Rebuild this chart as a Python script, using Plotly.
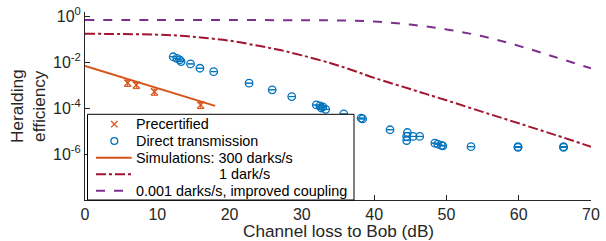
import plotly.graph_objects as go

# ---- data ----
precert_loss = [5.9, 7.1, 9.6, 16.0]
precert_eff = [1.26e-3, 1.02e-3, 5.2e-4, 1.38e-4]

direct_loss = [12.2, 12.7, 13.1, 13.3, 14.6, 15.9, 17.8, 22.7, 25.9, 28.6,
               32.0, 32.5, 32.9, 33.3, 32.7, 35.8, 38.2, 38.4, 42.2,
               44.6, 44.5, 44.5, 45.4, 46.3, 48.4, 48.8, 49.3, 49.5,
               53.4, 59.9, 59.9, 66.2, 66.2]
direct_eff = [1.74e-2, 1.48e-2, 1.26e-2, 1.07e-2, 8.5e-3, 5.5e-3, 3.9e-3, 1.23e-3, 6.3e-4, 3.2e-4,
              1.38e-4, 1.26e-4, 1.15e-4, 8.9e-5, 1.02e-4, 5.6e-5, 3.7e-5, 3.4e-5, 1.15e-5,
              8.7e-6, 5.9e-6, 3.9e-6, 5.9e-6, 5.9e-6, 3.0e-6, 2.7e-6, 2.4e-6, 2.3e-6,
              2.1e-6, 1.95e-6, 2.1e-6, 1.95e-6, 2.1e-6]

sim300_loss = [0, 18]
sim300_eff = [6.9e-3, 1.26e-4]

sim1_loss = [0, 5, 10, 13, 16, 20, 24, 27, 30, 34, 37, 40, 45, 50, 55, 60, 65, 70]
sim1_eff = [0.174, 0.170, 0.160, 0.145, 0.12, 0.087, 0.052, 0.034, 0.020, 9.1e-3,
            4.5e-3, 2.1e-3, 6.8e-4, 2.2e-4, 6.9e-5, 2.2e-5, 6.9e-6, 2.1e-6]

sim001_loss = [0, 10, 20, 30, 35, 40, 45, 50, 55, 60, 65, 70]
sim001_eff = [0.69, 0.69, 0.69, 0.68, 0.665, 0.60, 0.44, 0.27, 0.135, 0.052, 0.017, 5.4e-3]

x_ticks = [0, 10, 20, 30, 40, 50, 60, 70]
y_tickvals = [1e-6, 1e-4, 1e-2, 1]
y_ticktext = ["10<sup>-6</sup>", "10<sup>-4</sup>", "10<sup>-2</sup>", "10<sup>0</sup>"]

legend_labels = ["Precertified", "Direct transmission", "Simulations: 300 darks/s",
                 "1 dark/s", "0.001 darks/s, improved coupling"]

ORANGE = "#D95319"
BLUE = "#0072BD"
RED = "#A2142F"
PURPLE = "#7E2F8E"
AX = "#262626"
FONT = "Liberation Sans, Arial, Helvetica, sans-serif"

W, H = 606, 241
ML, MR, MT, MB = 85, 15, 12, 41
PW, PH = W - ML - MR, H - MT - MB


def px(xp):
    return (xp - ML) / PW


def py(yp):
    return (H - MB - yp) / PH


fig = go.Figure()

fig.add_trace(go.Scatter(
    x=sim300_loss, y=sim300_eff, mode="lines", name=legend_labels[2], showlegend=False,
    line=dict(color=ORANGE, width=2),
))
fig.add_trace(go.Scatter(
    x=sim1_loss, y=sim1_eff, mode="lines", line_shape="spline", name=legend_labels[3],
    showlegend=False, line=dict(color=RED, width=2, dash="10px,3px,3px,3px"),
))
fig.add_trace(go.Scatter(
    x=sim001_loss, y=sim001_eff, mode="lines", line_shape="spline", name=legend_labels[4],
    showlegend=False, line=dict(color=PURPLE, width=2, dash="9px,9px"),
))
fig.add_trace(go.Scatter(
    x=precert_loss, y=precert_eff, mode="markers", name=legend_labels[0], showlegend=False,
    marker=dict(symbol="x-thin-open", size=7, color=ORANGE, line=dict(width=1.3, color=ORANGE)),
    error_y=dict(type="percent", value=30, color=ORANGE, thickness=1, width=3),
))
fig.add_trace(go.Scatter(
    x=direct_loss, y=direct_eff, mode="markers", name=legend_labels[1], showlegend=False,
    marker=dict(symbol="circle-open", size=7.5, color=BLUE, line=dict(width=1.3, color=BLUE)),
    error_y=dict(type="percent", value=1, color=BLUE, thickness=1, width=3),
))

# ---- legend (drawn as a box with samples, to match the compact row spacing) ----
shapes = []
annotations = []
box = dict(x0=87.5, x1=354, y0=114.3, y1=200)
shapes.append(dict(type="rect", xref="paper", yref="paper", layer="above",
                   x0=px(box["x0"]), x1=px(box["x1"]), y0=py(box["y1"]), y1=py(box["y0"]),
                   fillcolor="white", line=dict(color="#000000", width=1)))
rows = [124.2, 141.0, 157.7, 174.2, 190.8]
mx = 114.3
s = 3.2
for (a, b) in [((mx - s, rows[0] - s), (mx + s, rows[0] + s)), ((mx - s, rows[0] + s), (mx + s, rows[0] - s))]:
    shapes.append(dict(type="line", xref="paper", yref="paper", layer="above",
                       x0=px(a[0]), y0=py(a[1]), x1=px(b[0]), y1=py(b[1]),
                       line=dict(color=ORANGE, width=1.3)))
r = 3.4
shapes.append(dict(type="circle", xref="paper", yref="paper", layer="above",
                   x0=px(mx - r), x1=px(mx + r), y0=py(rows[1] + r), y1=py(rows[1] - r),
                   line=dict(color=BLUE, width=1.3)))
for yy, col, dash in [(rows[2], ORANGE, "solid"), (rows[3], RED, "10px,3px,3px,3px"),
                      (rows[4], PURPLE, "9px,9px")]:
    shapes.append(dict(type="line", xref="paper", yref="paper", layer="above",
                       x0=px(96), x1=px(131.7), y0=py(yy), y1=py(yy),
                       line=dict(color=col, width=2, dash=dash)))
text_x = [134.3, 134.3, 134.3, 216.7, 134.3]
for lab, xx, yy in zip(legend_labels, text_x, rows):
    annotations.append(dict(text=lab, xref="paper", yref="paper", x=px(xx), y=py(yy),
                            xanchor="left", yanchor="middle", showarrow=False,
                            font=dict(size=14.4, color="#000000", family=FONT)))

annotations.append(dict(text="Channel loss to Bob (dB)", xref="paper", yref="paper",
                        x=px(338), y=py(231), xanchor="center", yanchor="middle",
                        showarrow=False, borderpad=0,
                        font=dict(size=17.2, color=AX, family=FONT)))
annotations.append(dict(text="Heralding<br>efficiency", xref="paper", yref="paper",
                        x=px(28), y=py(106), xanchor="center", yanchor="middle",
                        textangle=-90, showarrow=False,
                        font=dict(size=17.2, color=AX, family=FONT)))

fig.update_layout(
    width=W, height=H,
    margin=dict(l=ML, r=MR, t=MT, b=MB, autoexpand=False),
    paper_bgcolor="white", plot_bgcolor="white",
    font=dict(family=FONT, size=16, color=AX),
    showlegend=False,
    shapes=shapes, annotations=annotations,
)
fig.update_xaxes(
    range=[0, 70], tickvals=x_ticks, showline=True, linecolor=AX, linewidth=1,
    ticks="inside", ticklen=5, tickcolor=AX, showgrid=False, zeroline=False,
    tickfont=dict(size=16), automargin=False,
)
fig.update_yaxes(
    type="log", range=[-8, 0.19], tickvals=y_tickvals, ticktext=y_ticktext,
    showline=True, linecolor=AX, linewidth=1, ticks="inside", ticklen=5, tickcolor=AX,
    showgrid=False, zeroline=False, tickfont=dict(size=16), automargin=False,
)

fig.write_html("out.html", config={"displayModeBar": False},
               post_script="document.body.style.margin='0px';document.body.style.overflow='hidden';")
